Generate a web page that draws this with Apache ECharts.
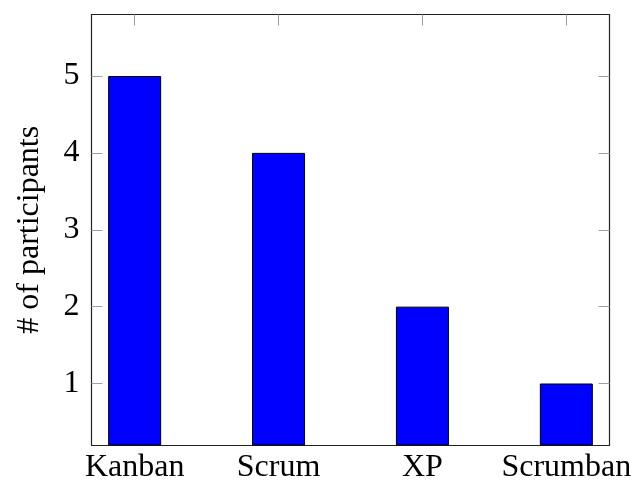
<!DOCTYPE html>
<html>
<head>
<meta charset="utf-8">
<script src="https://cdn.jsdelivr.net/npm/echarts@6/dist/echarts.min.js"></script>
<style>html,body{margin:0;padding:0;background:#fff;}#c{width:633px;height:482px;}</style>
</head>
<body>
<div id="c"></div>
<script>
var categories = ['Kanban', 'Scrum', 'XP', 'Scrumban'];
var participants = [5, 4, 2, 1];
var yTicks = [1, 2, 3, 4, 5];
var yLabel = '# of participants';

var positions = categories.map(function (_, i) { return i; });
var FONT = 'Liberation Serif';
var FS = 32;
var tickStyle = { show: true, inside: true, length: 11, lineStyle: { color: '#a0a0a0', width: 1 } };
var lineStyle = { show: true, onZero: false, lineStyle: { color: '#222', width: 1.2 } };

var chart = echarts.init(document.getElementById('c'), null, { renderer: 'canvas' });
chart.setOption({
  animation: false,
  backgroundColor: '#fff',
  grid: { left: 91.5, right: 23.5, top: 14.5, bottom: 37, containLabel: false, outerBoundsMode: 'none' },
  xAxis: [{
    type: 'value', position: 'bottom', min: -0.3, max: 3.3,
    axisLine: lineStyle,
    axisTick: Object.assign({ customValues: positions }, tickStyle),
    axisLabel: {
      customValues: positions, margin: 7,
      fontFamily: FONT, fontSize: FS, color: '#000',
      formatter: function (v) { return categories[Math.round(v)] || ''; }
    },
    splitLine: { show: false }
  }, {
    type: 'value', position: 'top', min: -0.3, max: 3.3,
    axisLine: lineStyle,
    axisTick: Object.assign({ customValues: positions }, tickStyle),
    axisLabel: { show: false },
    splitLine: { show: false }
  }],
  yAxis: [{
    type: 'value', position: 'left', min: 0.2, max: 5.8,
    axisLine: lineStyle,
    axisTick: Object.assign({ customValues: yTicks }, tickStyle),
    axisLabel: { customValues: yTicks, margin: 12, fontFamily: FONT, fontSize: FS, color: '#000' },
    splitLine: { show: false },
    name: yLabel, nameLocation: 'middle', nameGap: 46, nameRotate: 90,
    nameTextStyle: { fontFamily: FONT, fontSize: FS, color: '#000' }
  }, {
    type: 'value', position: 'right', min: 0.2, max: 5.8,
    axisLine: lineStyle,
    axisTick: Object.assign({ customValues: yTicks }, tickStyle),
    axisLabel: { show: false },
    splitLine: { show: false }
  }],
  series: [{
    type: 'bar',
    xAxisIndex: 0, yAxisIndex: 0,
    barWidth: 53,
    data: positions.map(function (p, i) { return [p, participants[i]]; }),
    itemStyle: { color: '#0000ff', borderColor: '#000', borderWidth: 1 }
  }]
});
</script>
</body>
</html>
